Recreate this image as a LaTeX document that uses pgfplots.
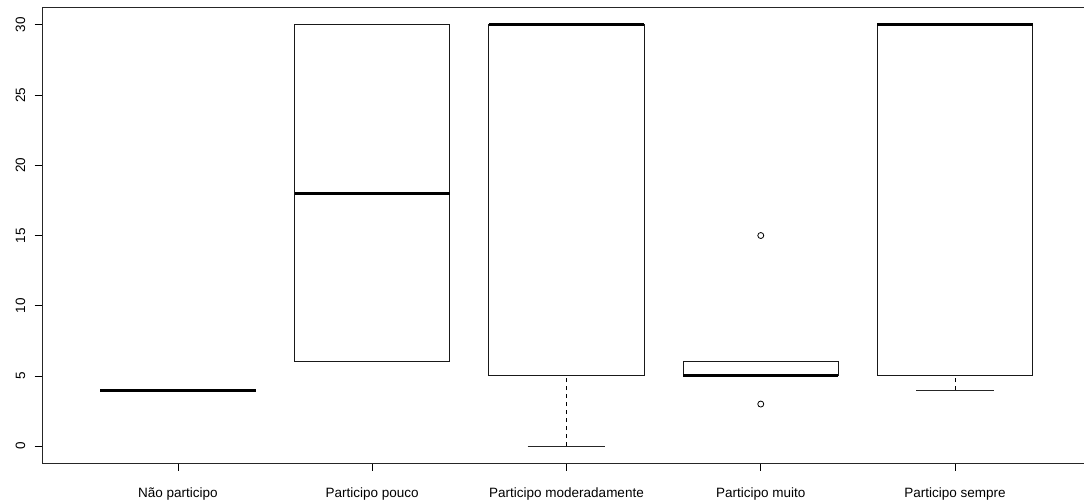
\documentclass[border=0pt]{standalone}
\usepackage{fontspec}
\setmainfont{Liberation Sans}
\usepackage{pgfplots}
\pgfplotsset{compat=1.18}
\usepgfplotslibrary{statistics}
\begin{document}
\begin{tikzpicture}
\begin{axis}[
  scale only axis,
  width=1049pt, height=455pt,
  xmin=0.3, xmax=5.7,
  ymin=-1.2, ymax=31.2,
  axis line style={line width=1pt, black!85},
  xtick={1,2,3,4,5},
  xticklabels={Não participo, Participo pouco, Participo moderadamente, Participo muito, Participo sempre},
  ytick={0,5,10,15,20,25,30},
  tick align=outside,
  xtick pos=bottom, ytick pos=left,
  major tick length=7.5pt,
  tick style={line width=0.8pt, black},
  /pgf/number format/assume math mode=true,
  ticklabel style={font=\fontsize{13.5}{16}\selectfont},
  yticklabel style={rotate=90, anchor=south, inner sep=0pt, yshift=9pt},
  xticklabel style={anchor=north, inner sep=0pt, yshift=-17pt},
  boxplot/draw direction=y,
  boxplot/box extend=0.8,
  boxplot/whisker extend=0.4,
  boxplot/every box/.style={line width=1pt, black!90},
  boxplot/every median/.style={line width=3pt, black},
  boxplot/draw/lower whisker/.code={
    \draw[line width=0.9pt, black, dash pattern=on 4pt off 4pt] (boxplot box cs:\pgfplotsboxplotvalue{lower whisker},0.5) -- (boxplot box cs:\pgfplotsboxplotvalue{lower quartile},0.5);
    \draw[line width=1pt, black!85] (boxplot whisker cs:\pgfplotsboxplotvalue{lower whisker},0) -- (boxplot whisker cs:\pgfplotsboxplotvalue{lower whisker},1);
  },
  boxplot/draw/upper whisker/.code={
    \draw[line width=0.9pt, black, dash pattern=on 4pt off 4pt] (boxplot box cs:\pgfplotsboxplotvalue{upper whisker},0.5) -- (boxplot box cs:\pgfplotsboxplotvalue{upper quartile},0.5);
    \draw[line width=1pt, black!85] (boxplot whisker cs:\pgfplotsboxplotvalue{upper whisker},0) -- (boxplot whisker cs:\pgfplotsboxplotvalue{upper whisker},1);
  },
]
\addplot[black, mark=o, mark size=3pt, mark options={line width=0.8pt}, boxplot prepared={draw position=1, lower whisker=4, lower quartile=4, median=4, upper quartile=4, upper whisker=4}] coordinates {};
\addplot[black, mark=o, mark size=3pt, mark options={line width=0.8pt}, boxplot prepared={draw position=2, lower whisker=6, lower quartile=6, median=18, upper quartile=30, upper whisker=30}] coordinates {};
\addplot[black, mark=o, mark size=3pt, mark options={line width=0.8pt}, boxplot prepared={draw position=3, lower whisker=0, lower quartile=5, median=30, upper quartile=30, upper whisker=30}] coordinates {};
\addplot[black, mark=o, mark size=3pt, mark options={line width=0.8pt}, boxplot prepared={draw position=4, lower whisker=5, lower quartile=5, median=5, upper quartile=6, upper whisker=6}] coordinates {(0,15) (0,3)};
\addplot[black, mark=o, mark size=3pt, mark options={line width=0.8pt}, boxplot prepared={draw position=5, lower whisker=4, lower quartile=5, median=30, upper quartile=30, upper whisker=30}] coordinates {};
\end{axis}
\path (current axis.south west) ++(-42pt,-39pt) coordinate (bl);
\path (current axis.north east) ++(-7pt,8pt) coordinate (tr);
\pgfresetboundingbox
\useasboundingbox (bl) rectangle (tr);
\end{tikzpicture}
\end{document}
